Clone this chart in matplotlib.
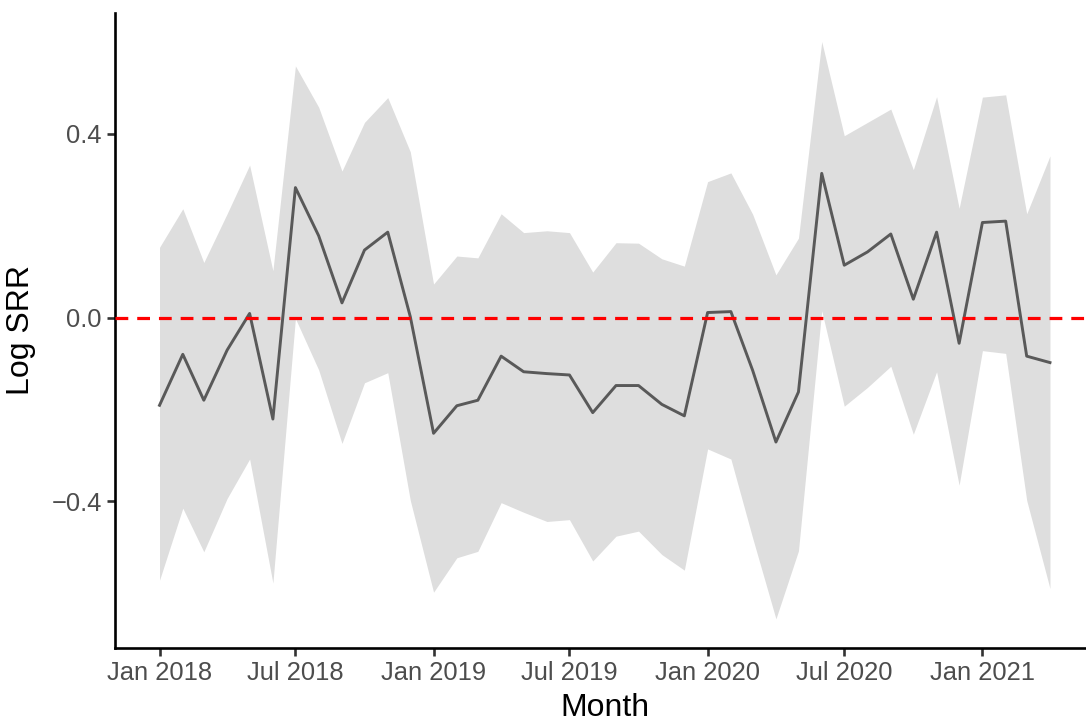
import matplotlib
matplotlib.use("Agg")
import matplotlib.pyplot as plt
import matplotlib.dates as mdates
import numpy as np
import pandas as pd

plt.rcParams['font.family'] = ['Liberation Sans', 'DejaVu Sans']

# monthly estimates, Jan 2018 .. Apr 2021
months = pd.date_range('2018-01-01', periods=40, freq='MS')

log_srr = [-0.191, -0.080, -0.180, -0.071, 0.009, -0.221,
           0.283, 0.178, 0.032, 0.147, 0.186, 0.002,
           -0.252, -0.192, -0.180, -0.084, -0.118, -0.122,
           -0.125, -0.207, -0.148, -0.148, -0.189, -0.214,
           0.011, 0.013, -0.115, -0.271, -0.162, 0.314,
           0.114, 0.143, 0.182, 0.040, 0.186, -0.056,
           0.207, 0.210, -0.084, -0.098]

upper = [0.153, 0.237, 0.120, 0.226, 0.332, 0.102,
         0.548, 0.458, 0.319, 0.425, 0.479, 0.361,
         0.073, 0.134, 0.130, 0.226, 0.185, 0.189,
         0.185, 0.099, 0.163, 0.162, 0.128, 0.112,
         0.296, 0.315, 0.225, 0.093, 0.173, 0.601,
         0.396, 0.425, 0.454, 0.322, 0.481, 0.238,
         0.480, 0.485, 0.226, 0.352]

lower = [-0.572, -0.415, -0.510, -0.394, -0.308, -0.578,
         -0.002, -0.114, -0.274, -0.142, -0.120, -0.398,
         -0.598, -0.523, -0.509, -0.403, -0.424, -0.444,
         -0.440, -0.530, -0.476, -0.465, -0.516, -0.550,
         -0.286, -0.308, -0.480, -0.656, -0.508, 0.015,
         -0.193, -0.152, -0.106, -0.254, -0.118, -0.365,
         -0.072, -0.078, -0.398, -0.590]

y_ticks = [-0.4, 0.0, 0.4]

W, H = 1086, 722
fig = plt.figure(figsize=(W / 100, H / 100), dpi=100)
# panel runs a little past the right edge, like the reference
ax = fig.add_axes([115 / W, (H - 647.7) / H, 979.5 / W, 635 / H])

x = mdates.date2num(months)
ax.fill_between(x, lower, upper, color='#DEDEDE', linewidth=0, zorder=1)
ax.plot(x, log_srr, color='#595959', linewidth=2.1, zorder=2)
ax.axhline(0, color='#FF0000', linewidth=2.3, dashes=(4, 2.8), zorder=3)

# ggplot-style 5% expansion
xr = x.max() - x.min()
ax.set_xlim(x.min() - 0.05 * xr, x.max() + 0.05 * xr)
ymin, ymax = min(lower), max(upper)
yr = ymax - ymin
ax.set_ylim(ymin - 0.05 * yr, ymax + 0.05 * yr)

ax.xaxis.set_major_locator(mdates.MonthLocator(bymonth=[1, 7]))
ax.xaxis.set_major_formatter(mdates.DateFormatter('%b %Y'))
ax.set_yticks(y_ticks)
ax.set_yticklabels([f'{v:.1f}'.replace('-', '\u2212') for v in y_ticks])

for s in ['top', 'right']:
    ax.spines[s].set_visible(False)
for s in ['left', 'bottom']:
    ax.spines[s].set_linewidth(1.9)
    ax.spines[s].set_color('black')

ax.tick_params(axis='both', length=5.5, width=1.9, color='#333333',
               labelcolor='#4D4D4D', labelsize=18.4, pad=4)

ax.set_xlabel('Month', fontsize=23, labelpad=6)
ax.set_ylabel('Log SRR', fontsize=23, labelpad=11)

fig.savefig('out.png', dpi=100)
